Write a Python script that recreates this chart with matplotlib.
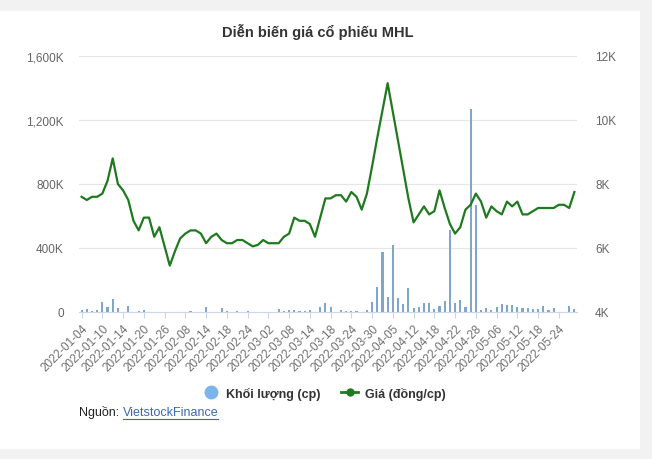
import matplotlib
matplotlib.use('Agg')
import matplotlib.pyplot as plt
from matplotlib.lines import Line2D
from matplotlib.patches import Rectangle
from matplotlib.ticker import FuncFormatter

plt.rcParams['font.family'] = ['Liberation Sans', 'DejaVu Sans']

# Ngày giao dịch (2022)
dates = [
    '2022-01-04', '2022-01-05', '2022-01-06', '2022-01-07', '2022-01-10', '2022-01-11',
    '2022-01-12', '2022-01-13', '2022-01-14', '2022-01-17', '2022-01-18', '2022-01-19',
    '2022-01-20', '2022-01-21', '2022-01-24', '2022-01-25', '2022-01-26', '2022-01-27',
    '2022-01-28', '2022-02-07', '2022-02-08', '2022-02-09', '2022-02-10', '2022-02-11',
    '2022-02-14', '2022-02-15', '2022-02-16', '2022-02-17', '2022-02-18', '2022-02-21',
    '2022-02-22', '2022-02-23', '2022-02-24', '2022-02-25', '2022-02-28', '2022-03-01',
    '2022-03-02', '2022-03-03', '2022-03-04', '2022-03-07', '2022-03-08', '2022-03-09',
    '2022-03-10', '2022-03-11', '2022-03-14', '2022-03-15', '2022-03-16', '2022-03-17',
    '2022-03-18', '2022-03-21', '2022-03-22', '2022-03-23', '2022-03-24', '2022-03-25',
    '2022-03-28', '2022-03-29', '2022-03-30', '2022-03-31', '2022-04-01', '2022-04-04',
    '2022-04-05', '2022-04-06', '2022-04-07', '2022-04-08', '2022-04-12', '2022-04-13',
    '2022-04-14', '2022-04-15', '2022-04-18', '2022-04-19', '2022-04-20', '2022-04-21',
    '2022-04-22', '2022-04-25', '2022-04-26', '2022-04-27', '2022-04-28', '2022-04-29',
    '2022-05-04', '2022-05-05', '2022-05-06', '2022-05-09', '2022-05-10', '2022-05-11',
    '2022-05-12', '2022-05-13', '2022-05-16', '2022-05-17', '2022-05-18', '2022-05-19',
    '2022-05-20', '2022-05-23', '2022-05-24', '2022-05-25', '2022-05-26', '2022-05-27',
]

# Giá (đồng/cp)
price = [
    7600, 7500, 7600, 7600, 7700, 8100, 8800, 8000, 7800, 7500, 6850, 6550,
    6950, 6950, 6350, 6650, 6050, 5450, 5900, 6300, 6450, 6550, 6550, 6450,
    6150, 6350, 6450, 6250, 6150, 6150, 6250, 6250, 6150, 6050, 6100, 6250,
    6150, 6150, 6150, 6350, 6450, 6950, 6850, 6850, 6750, 6350, 6950, 7550,
    7550, 7650, 7650, 7450, 7750, 7600, 7200, 7700, 8550, 9450, 10300, 11150,
    10250, 9350, 8450, 7550, 6800, 7050, 7300, 7050, 7150, 7800, 7250, 6750,
    6450, 6650, 7200, 7350, 7700, 7450, 6950, 7300, 7150, 7050, 7450, 7300,
    7450, 7050, 7050, 7150, 7250, 7250, 7250, 7250, 7350, 7350, 7250, 7750,
]

# Khối lượng (cp)
volume = [
    12000, 17000, 8000, 10000, 65000, 30000, 80000, 25000, 0, 38000, 0, 8000,
    10000, 0, 0, 0, 0, 0, 0, 0, 0, 6000, 0, 0,
    33000, 0, 0, 25000, 6000, 0, 6000, 0, 6000, 0, 0, 0,
    0, 0, 21000, 8000, 12000, 12000, 8000, 8000, 15000, 0, 33000, 58000,
    33000, 0, 15000, 8000, 8000, 8000, 0, 12000, 65000, 158000, 373000, 96000,
    417000, 90000, 52000, 152000, 27000, 32000, 57000, 57000, 21000, 40000, 71000, 513000,
    57000, 77000, 32000, 1271000, 666000, 15000, 25000, 15000, 30000, 51000, 46000, 46000,
    31000, 25000, 25000, 21000, 21000, 40000, 15000, 25000, 0, 0, 35000, 21000,
]

tick_step = 4

fig = plt.figure(figsize=(6.52, 4.60), dpi=100, facecolor='#f2f2f2')
fig.patches.append(Rectangle((0, 1 - 450 / 460), 640 / 652, 438 / 460,
                             transform=fig.transFigure, facecolor='white',
                             edgecolor='none', zorder=-10))

ax = fig.add_axes([79 / 652, 1 - 313 / 460, 498 / 652, 256 / 460])
ax.set_facecolor('none')
x = list(range(len(dates)))

ax.bar(x, volume, width=0.4, color='#7ea7c9', zorder=2)
ax.set_ylim(0, 1600000)
ax.set_yticks([0, 400000, 800000, 1200000, 1600000])
ax.yaxis.set_major_formatter(FuncFormatter(lambda v, p: '0' if v == 0 else f'{v / 1000:,.0f}K'))
ax.set_xlim(-0.5, len(dates) - 0.5)
ax.set_xticks(x[::tick_step])
ax.set_xticklabels(dates[::tick_step], rotation=45, ha='right', rotation_mode='anchor')
ax.grid(axis='y', color='#e6e6e6', linewidth=0.8, zorder=0)
ax.set_axisbelow(True)
for s in ['top', 'right', 'left']:
    ax.spines[s].set_visible(False)
ax.spines['bottom'].set_color('#ccd6eb')
ax.tick_params(axis='y', length=0, pad=11, labelsize=8.5, labelcolor='#666666')
ax.tick_params(axis='x', length=4, color='#ccd6eb', pad=3, labelsize=8.5, labelcolor='#707070')

ax2 = ax.twinx()
ax2.plot(x, price, color='#1f7a1f', linewidth=1.6, zorder=3)
ax2.set_ylim(4000, 12000)
ax2.set_yticks([4000, 6000, 8000, 10000, 12000])
ax2.yaxis.set_major_formatter(FuncFormatter(lambda v, p: f'{v / 1000:.0f}K'))
for s in ['top', 'right', 'left', 'bottom']:
    ax2.spines[s].set_visible(False)
ax2.tick_params(axis='y', length=0, pad=13, labelsize=8.5, labelcolor='#666666')

fig.text(318 / 652, 1 - 32 / 460, 'Diễn biến giá cổ phiếu MHL', ha='center', va='center',
         fontsize=10.5, fontweight='bold', color='#333333')

handles = [
    Line2D([], [], linestyle='none', marker='o', markersize=9, color='#7cb5ec'),
    Line2D([], [], color='#1f7a1f', linewidth=2, marker='o', markersize=5),
]
fig.legend(handles, ['Khối lượng (cp)', 'Giá (đồng/cp)'], loc='center',
           bbox_to_anchor=(324 / 652, 1 - 394 / 460), ncol=2, frameon=False,
           prop={'size': 9, 'weight': 'bold'}, labelcolor='#333333',
           handlelength=1.4, handletextpad=0.5, columnspacing=1.6)

src = fig.text(79 / 652, 1 - 413 / 460, 'Nguồn: ', ha='left', va='center',
               fontsize=9, color='#222222')
fig.canvas.draw()
bb = src.get_window_extent()
link = fig.text(bb.x1 / 652, 1 - 413 / 460, 'VietstockFinance', ha='left', va='center',
                fontsize=9, color='#3a68b5')
fig.canvas.draw()
lb = link.get_window_extent()
fig.add_artist(Line2D([lb.x0 / 652, lb.x1 / 652], [(lb.y0 - 0.5) / 460] * 2,
                      color='#3a68b5', linewidth=0.8, transform=fig.transFigure))

fig.savefig('out.png', dpi=100, facecolor=fig.get_facecolor())
